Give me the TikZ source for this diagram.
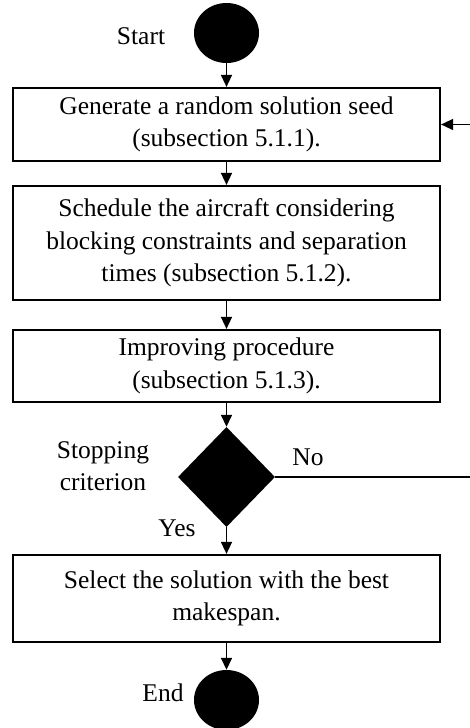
\documentclass[tikz,border=0pt]{standalone}
\usepackage{fontspec}
\setmainfont{Liberation Serif}
\usetikzlibrary{shapes.geometric,arrows.meta}
\begin{document}
\begin{tikzpicture}[x=1pt,y=-1pt,
  every node/.style={font=\fontsize{25.5}{32.5}\selectfont},
  procbox/.style={draw,line width=2.2pt,minimum width=427pt,align=center,inner sep=0pt},
  term/.style={ellipse,fill=black,minimum width=65pt,minimum height=60pt,inner sep=0pt},
  arr/.style={line width=1.5pt,-{Triangle[length=12pt,width=11pt]}},
  lbl/.style={align=center,inner sep=0pt}]
\useasboundingbox (0,0) rectangle (470,728);
\node[term] (start) at (226.5,33) {};
\node[lbl] (startl) at (141,36) {Start};
\node[procbox,minimum height=73pt] (b1) at (226.5,124.5) {Generate a random solution seed\\(subsection 5.1.1).};
\node[procbox,minimum height=114pt] (b2) at (226.5,243) {Schedule the aircraft considering\\blocking constraints and separation\\times (subsection 5.1.2).};
\node[procbox,minimum height=72pt] (b3) at (226.5,366) {Improving procedure\\(subsection 5.1.3).};
\node[diamond,fill=black,minimum width=97pt,minimum height=100pt,inner sep=0pt] (dia) at (226.5,477) {};
\node[lbl] (stopl) at (103,466) {Stopping\\criterion};
\node[lbl] (nol) at (308,457) {No};
\node[lbl] (yesl) at (177,528) {Yes};
\node[procbox,minimum height=87pt] (b4) at (226.5,598.5) {Select the solution with the best\\makespan.};
\node[term] (end) at (226.5,700) {};
\node[lbl] (endl) at (163,693) {End};
\coordinate (loopa) at (475,477);
\coordinate (loopb) at (475,124.5);
\draw[arr] (start) -- (b1);
\draw[arr] (b1) -- (b2);
\draw[arr] (b2) -- (b3);
\draw[arr] (b3) -- (dia);
\draw[arr] (dia) -- (b4);
\draw[arr] (b4) -- (end);
\draw[arr] (dia.east) -- (loopa) -- (loopb) -- (b1.east);
\end{tikzpicture}
\end{document}
